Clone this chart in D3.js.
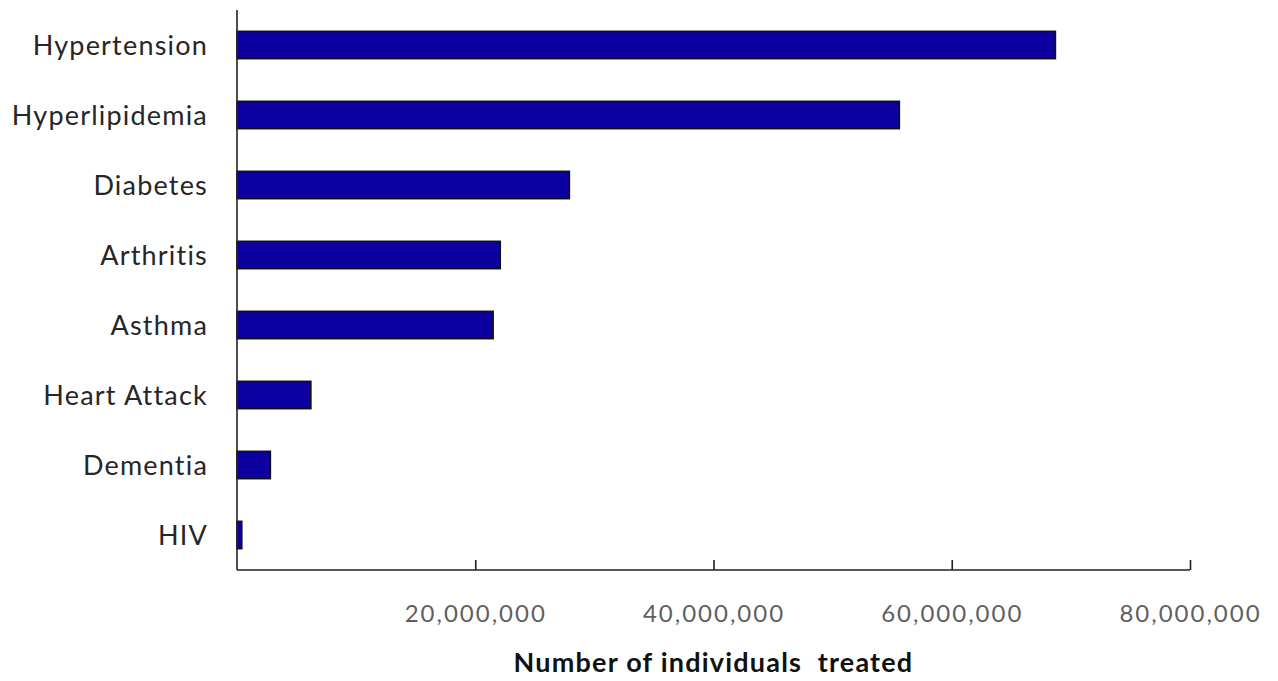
<!DOCTYPE html>
<html>
<head>
<meta charset="utf-8">
<script src="https://cdn.jsdelivr.net/npm/d3@7"></script>
<style>
  html, body { margin: 0; padding: 0; background: #fff; }
  svg { display: block; }
</style>
</head>
<body>
<svg id="chart" width="1278" height="681"></svg>
<script>
const categories = ["Hypertension", "Hyperlipidemia", "Diabetes", "Arthritis", "Asthma", "Heart Attack", "Dementia", "HIV"];
const values = [68700000, 55600000, 27900000, 22100000, 21500000, 6200000, 2800000, 400000];
const tickValues = [20000000, 40000000, 60000000, 80000000];
const xTitle = "Number of individuals  treated";

const svg = d3.select("#chart");
const margin = { left: 237, right: 88, top: 10, bottom: 111 };
const W = 1278, H = 681;
const FONT = "Lato, 'Open Sans', sans-serif";

const x = d3.scaleLinear().domain([0, 80000000]).range([margin.left, W - margin.right]);
const y = d3.scaleBand().domain(categories).range([margin.top, H - margin.bottom]).paddingInner(0.61).paddingOuter(0.305);

const data = categories.map((c, i) => ({ c, v: values[i] }));

// bars
svg.append("g").selectAll("rect").data(data).enter().append("rect")
  .attr("x", x(0))
  .attr("y", d => y(d.c))
  .attr("width", d => x(d.v) - x(0))
  .attr("height", y.bandwidth())
  .attr("fill", "#0c00a0")
  .attr("stroke", "#111")
  .attr("stroke-width", 1.6);

// x axis
const xAxis = d3.axisBottom(x).tickValues(tickValues)
  .tickSize(-10)
  .tickFormat(d3.format(","));
const gx = svg.append("g").attr("transform", `translate(0,${H - margin.bottom})`).call(xAxis);
gx.select(".domain").attr("stroke", "#222").attr("stroke-width", 1.6).attr("d", `M${x(0)},0H${x(80000000)}`);
gx.selectAll(".tick line").attr("stroke", "#222").attr("stroke-width", 1.6);
gx.selectAll(".tick text")
  .attr("y", 52).attr("dy", 0)
  .attr("fill", "#5f5f5f").attr("font-family", FONT).attr("font-size", 24).attr("letter-spacing", 2);

// y axis
const yAxis = d3.axisLeft(y).tickSize(0).tickPadding(29);
const gy = svg.append("g").attr("transform", `translate(${margin.left},0)`).call(yAxis);
gy.select(".domain").attr("stroke", "#222").attr("stroke-width", 1.6).attr("d", `M0,${margin.top}V${H - margin.bottom}`);
gy.selectAll(".tick text")
  .attr("dy", "0.37em")
  .attr("fill", "#262626").attr("font-family", FONT).attr("font-size", 27).attr("letter-spacing", 1.2);

// axis title
svg.append("text")
  .attr("x", x(40000000))
  .attr("y", 672)
  .attr("text-anchor", "middle")
  .attr("font-family", FONT)
  .attr("font-weight", "bold")
  .attr("font-size", 27)
  .attr("letter-spacing", 1.2)
  .attr("fill", "#111")
  .attr("xml:space", "preserve")
  .style("white-space", "pre")
  .text(xTitle);
</script>
</body>
</html>
